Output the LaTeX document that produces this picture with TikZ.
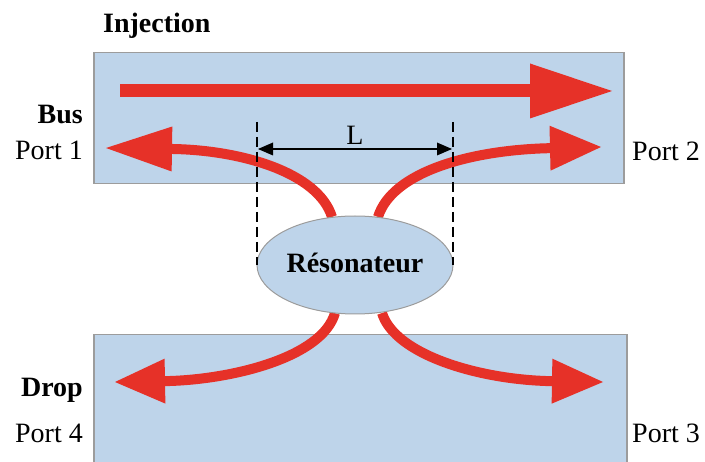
\documentclass[tikz,border=0pt]{standalone}
\usepackage{fontspec}
\setmainfont{Liberation Serif}
\usetikzlibrary{arrows.meta,shapes.geometric}

\definecolor{guide}{HTML}{BED4EA}
\definecolor{edge}{HTML}{9C9C9C}
\definecolor{flow}{HTML}{E63128}

\tikzset{
  waveguide/.style={draw=edge, line width=1.5pt, fill=guide},
  flowline/.style={draw=flow, line width=10pt, line cap=butt},
  label/.style={inner sep=0pt, font=\fontsize{28}{32}\selectfont},
  boldlabel/.style={label, font=\fontsize{28}{32}\selectfont\bfseries},
  marker/.style={draw=black, line width=2.6pt, dash pattern=on 10pt off 5pt},
}

\begin{document}
\begin{tikzpicture}[x=1pt, y=-1pt]
\useasboundingbox (0,0) rectangle (705,462);

% the two waveguides
\node[waveguide, inner sep=0pt, minimum width=530pt, minimum height=131pt, anchor=north west] (bus) at (93,52) {};
\node[waveguide, inner sep=0pt, minimum width=533pt, minimum height=140pt, anchor=north west] (drop) at (93,334) {};

% end points of the light paths
\coordinate (inStart) at (120,91);
\coordinate (inEnd)   at (612,91);
\coordinate (port1)   at (106,148);
\coordinate (port2)   at (601,147);
\coordinate (port4)   at (115,382);
\coordinate (port3)   at (603,382);
\coordinate (resTL)   at (332,217);
\coordinate (resTR)   at (378,217);
\coordinate (resBL)   at (335,313);
\coordinate (resBR)   at (382,313);

% straight injected wave
\draw[draw=flow, line width=13pt, -{Triangle[length=82pt,width=55pt,line width=0pt]}]
  (inStart) -- (inEnd);

% coupled waves
\draw[flowline, -{Triangle[length=66pt,width=45pt,line width=0pt]}]
  (resTL) .. controls (318,172) and (240,150) .. (port1);
\draw[flowline, -{Triangle[length=51pt,width=45pt,line width=0pt]}]
  (resTR) .. controls (392,172) and (470,150) .. (port2);
\draw[flowline, -{Triangle[length=50pt,width=45pt,line width=0pt]}]
  (resBL) .. controls (322,358) and (230,380) .. (port4);
\draw[flowline, -{Triangle[length=51pt,width=45pt,line width=0pt]}]
  (resBR) .. controls (395,355) and (480,380) .. (port3);

% ring resonator
\node[ellipse, draw=edge, line width=1pt, fill=guide, inner sep=0pt,
      minimum width=196pt, minimum height=98pt] (res) at (355,265) {};
\node[boldlabel, anchor=base] (resText) at (355,273) {Résonateur};

% coupling length markers
\coordinate (mLtop) at (257,122);
\coordinate (mLbot) at (257,265);
\coordinate (mRtop) at (453,122);
\coordinate (mRbot) at (453,265);
\draw[marker] (mLtop) -- (mLbot);
\draw[marker] (mRtop) -- (mRbot);
\coordinate (dimL) at (258,149);
\coordinate (dimR) at (452,149);
\draw[line width=1.5pt, {Triangle[length=15pt,width=13pt,line width=0pt]}-{Triangle[length=15pt,width=13pt,line width=0pt]}]
  (dimL) -- (dimR);
\node[label, anchor=base] (lenL) at (355,145) {L};

% labels
\node[boldlabel, anchor=base west] (injection) at (103,33) {Injection};
\node[boldlabel, anchor=base east] (busText) at (83,124) {Bus};
\node[label, anchor=base east] (p1) at (83,160) {Port 1};
\node[label, anchor=base west] (p2) at (632,161) {Port 2};
\node[boldlabel, anchor=base east] (dropText) at (83,397) {Drop};
\node[label, anchor=base east] (p4) at (83,443) {Port 4};
\node[label, anchor=base west] (p3) at (632,443) {Port 3};
\end{tikzpicture}
\end{document}
